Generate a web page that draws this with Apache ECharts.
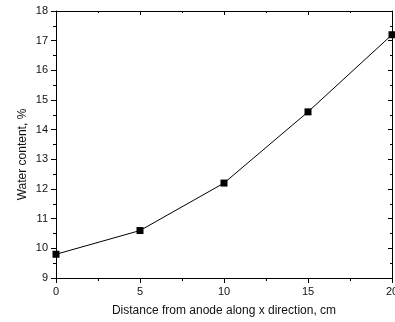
<!DOCTYPE html>
<html>
<head>
<meta charset="utf-8">
<script src="https://cdn.jsdelivr.net/npm/echarts@6/dist/echarts.min.js"></script>
<style>html,body{margin:0;padding:0;background:#fff}#c{width:395px;height:322px}</style>
</head>
<body>
<div id="c"></div>
<script>
var distances = [0, 5, 10, 15, 20];
var waterContent = [9.8, 10.6, 12.2, 14.6, 17.2];
var xName = 'Distance from anode along x direction, cm';
var yName = 'Water content, %';

var chart = echarts.init(document.getElementById('c'), null, {renderer: 'canvas'});
var font = 'Liberation Sans, Arial, sans-serif';
var lineStyle = {color: '#000', width: 1};
chart.setOption({
  animation: false,
  backgroundColor: '#fff',
  grid: {left: 56, right: 3, top: 11, bottom: 44, containLabel: false, outerBoundsMode: 'none'},
  xAxis: [{
    type: 'value', min: 0, max: 20, interval: 5,
    name: xName, nameLocation: 'middle', nameGap: 27, nameMoveOverlap: false,
    nameTextStyle: {fontFamily: font, fontSize: 12, color: '#111'},
    axisLine: {show: true, onZero: false, lineStyle: lineStyle},
    axisTick: {show: true, inside: false, length: 5, lineStyle: lineStyle},
    minorTick: {show: true, splitNumber: 2, length: 3, lineStyle: lineStyle},
    axisLabel: {fontFamily: font, fontSize: 11, color: '#111', margin: 8, hideOverlap: false},
    splitLine: {show: false}
  }, {
    type: 'value', min: 0, max: 20, interval: 5, position: 'top',
    axisLine: {show: true, onZero: false, lineStyle: lineStyle},
    axisTick: {show: true, inside: true, length: 4, lineStyle: lineStyle},
    minorTick: {show: true, splitNumber: 2, length: 2, lineStyle: lineStyle},
    axisLabel: {show: false}, splitLine: {show: false}
  }],
  yAxis: [{
    type: 'value', min: 9, max: 18, interval: 1,
    name: yName, nameLocation: 'middle', nameGap: 27, nameMoveOverlap: false,
    nameTextStyle: {fontFamily: font, fontSize: 12, color: '#111', padding: [0, 20, 0, 0]},
    axisLine: {show: true, onZero: false, lineStyle: lineStyle},
    axisTick: {show: true, inside: false, length: 5, lineStyle: lineStyle},
    minorTick: {show: true, splitNumber: 2, length: 3, lineStyle: lineStyle},
    axisLabel: {fontFamily: font, fontSize: 11, color: '#111', margin: 8},
    splitLine: {show: false}
  }, {
    type: 'value', min: 9, max: 18, interval: 1, position: 'right',
    axisLine: {show: true, onZero: false, lineStyle: lineStyle},
    axisTick: {show: true, inside: true, length: 4, lineStyle: lineStyle},
    minorTick: {show: true, splitNumber: 2, length: 2, lineStyle: lineStyle},
    axisLabel: {show: false}, splitLine: {show: false}
  }],
  series: [{
    type: 'line',
    data: distances.map(function (d, i) { return [d, waterContent[i]]; }),
    symbol: 'rect', symbolSize: 7,
    itemStyle: {color: '#000'},
    lineStyle: {color: '#000', width: 1},
    clip: false
  }]
});
</script>
</body>
</html>
